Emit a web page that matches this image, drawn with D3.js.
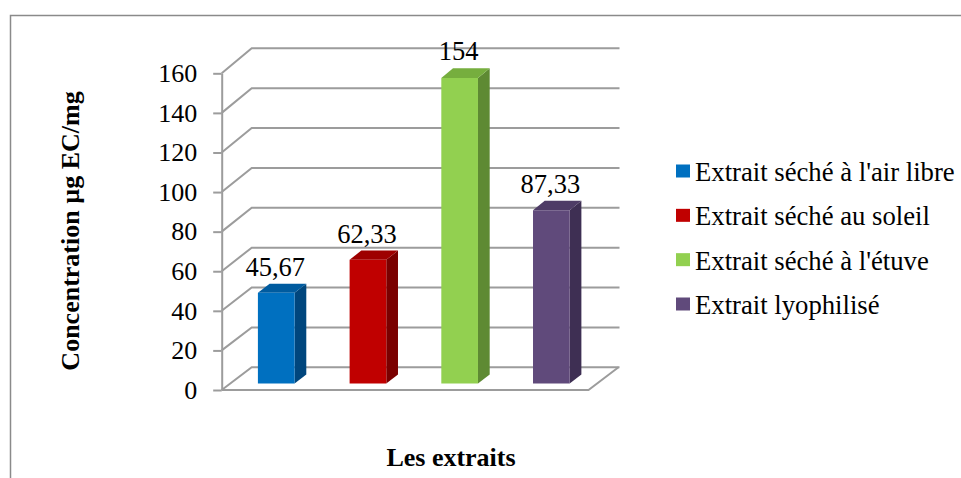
<!DOCTYPE html>
<html>
<head>
<meta charset="utf-8">
<script src="https://cdn.jsdelivr.net/npm/d3@7"></script>
<style>
  html, body { margin: 0; padding: 0; background: #ffffff; }
  svg { display: block; }
  text { font-family: "Liberation Serif", "Times New Roman", "DejaVu Serif", serif; fill: #000; }
</style>
</head>
<body>
<svg id="chart" width="961" height="478"></svg>
<script>
const categories = ["Extrait séché à l'air libre", "Extrait séché au soleil", "Extrait séché à l'étuve", "Extrait lyophilisé"];
const values = [45.67, 62.33, 154, 87.33];
const valueLabels = ["45,67", "62,33", "154", "87,33"];
const yTicks = [0, 20, 40, 60, 80, 100, 120, 140, 160];
const frontColors = ["#0070C0", "#C00000", "#92D050", "#604A7B"];
const topColors = ["#005B9F", "#9E0000", "#76AE3E", "#4E3C66"];
const sideColors = ["#00467D", "#7A0000", "#5E8A33", "#3E2F53"];
const yTitle = "Concentration µg EC/mg";
const xTitle = "Les extraits";

const svg = d3.select("#chart");

// frame
svg.append("path")
  .attr("d", "M10.5,480 L10.5,15.5 L965,15.5")
  .attr("fill", "none").attr("stroke", "#8a8a8a").attr("stroke-width", 1.5);

// 3D projection
const depthDX = 30;
const xFront = d3.scaleBand().domain(categories).range([221.7, 588.5]).paddingInner(0.6).paddingOuter(0.3);
const yFront = d3.scaleLinear().domain([0, 160]).range([390, 73.3]);
const yBack = d3.scaleLinear().domain([0, 160]).range([367.3, 48.3]);
const proj = (x, v, t) => [x + t * depthDX, yFront(v) * (1 - t) + yBack(v) * t];
const t0 = 0.29, t1 = 0.68;

const gridColor = "#9c9c9c";
const grid = svg.append("g").attr("fill", "none").attr("stroke", gridColor).attr("stroke-width", 2);
const x0 = xFront.range()[0], xR = xFront.range()[1];
yTicks.forEach(v => {
  const a = proj(x0, v, 0), b = proj(x0, v, 1), c = proj(xR, v, 1);
  grid.append("path").attr("d", `M${a[0]},${a[1]} L${b[0]},${b[1]} L${c[0]+1},${c[1]}`);
});
// floor
{
  const a = proj(x0, 0, 0), b = proj(xR, 0, 0), c = proj(xR, 0, 1);
  grid.append("path").attr("d", `M${a[0]},${a[1]} L${b[0]},${b[1]} L${c[0]},${c[1]}`);
}

// y axis
const yAxis = d3.axisLeft(yFront).tickValues(yTicks).tickSize(8.5).tickPadding(16).tickSizeOuter(0);
const ga = svg.append("g").attr("transform", `translate(${x0},0)`).call(yAxis);
ga.attr("font-family", null);
ga.select(".domain").attr("stroke", gridColor).attr("stroke-width", 2);
ga.selectAll(".tick line").attr("stroke", gridColor).attr("stroke-width", 2);
ga.selectAll(".tick text").attr("font-size", 26).attr("fill", "#000");

// bars
const bars = svg.append("g");
categories.forEach((c, i) => {
  const v = values[i];
  const bx0 = xFront(c), bx1 = xFront(c) + xFront.bandwidth();
  const poly = pts => "M" + pts.map(p => p.join(",")).join("L") + "Z";
  const fTL = proj(bx0, v, t0), fTR = proj(bx1, v, t0), fBR = proj(bx1, 0, t0), fBL = proj(bx0, 0, t0);
  const bTL = proj(bx0, v, t1), bTR = proj(bx1, v, t1), bBR = proj(bx1, 0, t1);
  bars.append("path").attr("d", poly([fTR, bTR, bBR, fBR])).attr("fill", sideColors[i]);
  bars.append("path").attr("d", poly([fTL, fTR, bTR, bTL])).attr("fill", topColors[i]);
  bars.append("path").attr("d", poly([fTL, fTR, fBR, fBL])).attr("fill", frontColors[i]);
  bars.append("text")
    .attr("x", (fTL[0] + fTR[0]) / 2 - 1)
    .attr("y", bTL[1] - 8)
    .attr("text-anchor", "middle")
    .attr("font-size", 26.5)
    .text(valueLabels[i]);
});

// axis titles
svg.append("text")
  .attr("transform", "translate(79,231) rotate(-90)")
  .attr("text-anchor", "middle")
  .attr("font-size", 26).attr("font-weight", "bold")
  .text(yTitle);
svg.append("text")
  .attr("x", 451).attr("y", 466)
  .attr("text-anchor", "middle")
  .attr("font-size", 26).attr("font-weight", "bold")
  .text(xTitle);

// legend
const legend = svg.append("g");
const legendY = d3.scalePoint().domain(categories).range([171, 304]);
categories.forEach((c, i) => {
  const cy = legendY(c);
  legend.append("rect").attr("x", 676).attr("y", cy - 6.5).attr("width", 14).attr("height", 13).attr("fill", frontColors[i]);
  legend.append("text").attr("x", 695).attr("y", cy + 10).attr("font-size", 26.7).text(c);
});
</script>
</body>
</html>
